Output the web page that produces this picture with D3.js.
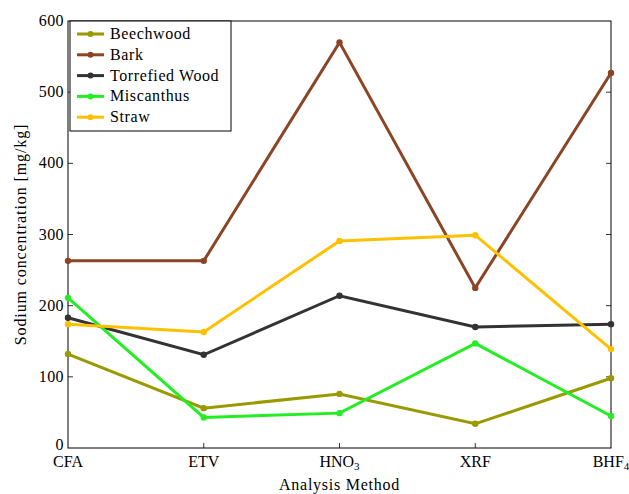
<!DOCTYPE html>
<html>
<head>
<meta charset="utf-8">
<script src="https://cdn.jsdelivr.net/npm/d3@7"></script>
<style>
  body { margin: 0; background: #fff; }
  text { font-family: "Liberation Serif", "DejaVu Serif", serif; fill: #000; }
</style>
</head>
<body>
<svg id="chart"></svg>
<script>
// categories on the x axis
const methods = ['CFA', 'ETV', 'HNO3', 'XRF', 'BHF4'];

// sodium concentration per fuel, mg/kg
const beechwood = [132, 56, 76, 34, 98];
const bark = [263, 263, 570, 225, 527];
const torrefied = [183, 131, 214, 170, 174];
const miscanthus = [211, 43, 49, 147, 45];
const straw = [174, 163, 291, 299, 139];

const seriesNames = ['Beechwood', 'Bark', 'Torrefied Wood', 'Miscanthus', 'Straw'];
const seriesColors = ['#999900', '#8b4424', '#333333', '#22ee22', '#ffc000'];
const yTicks = [0, 100, 200, 300, 400, 500, 600];

function buildChart() {
    const width = 629;
    const height = 494;
    const margin = {top: 21, right: 18, bottom: 46, left: 68};
    const svg = d3.select('#chart').attr('width', width).attr('height', height);

    const x = d3.scalePoint().domain(methods).range([margin.left, width - margin.right]);
    const y = d3.scaleLinear().domain([0, 600]).range([height - margin.bottom, margin.top]);

    const allSeries = [beechwood, bark, torrefied, miscanthus, straw];
    const fs = 16;

    //frame
    svg.append('rect')
        .attr('x', margin.left).attr('y', margin.top)
        .attr('width', width - margin.right - margin.left)
        .attr('height', height - margin.bottom - margin.top)
        .attr('fill', 'none').attr('stroke', '#000').attr('stroke-width', 1);

    //inward ticks
    const tickLen = 5;
    const ticks = svg.append('g').attr('stroke', '#000').attr('stroke-width', 0.8);
    methods.slice(1, -1).forEach(m => {
        ticks.append('line').attr('x1', x(m)).attr('x2', x(m))
            .attr('y1', y(0)).attr('y2', y(0) - tickLen);
    });
    yTicks.slice(1, -1).forEach(t => {
        ticks.append('line').attr('x1', margin.left).attr('x2', margin.left + tickLen)
            .attr('y1', y(t)).attr('y2', y(t));
        ticks.append('line').attr('x1', width - margin.right).attr('x2', width - margin.right - tickLen)
            .attr('y1', y(t)).attr('y2', y(t));
    });

    //y tick labels
    svg.append('g').selectAll('text').data(yTicks).enter().append('text')
        .attr('x', margin.left - 4).attr('y', d => y(d) + (d === 0 ? 2 : 5))
        .attr('text-anchor', 'end').attr('font-size', fs).attr('letter-spacing', 0.4).text(d => d);

    //x tick labels, with subscripts
    const xl = svg.append('g').selectAll('text').data(methods).enter().append('text')
        .attr('x', d => x(d)).attr('y', y(0) + 19)
        .attr('text-anchor', 'middle').attr('font-size', fs);
    xl.each(function (d) {
        const t = d3.select(this);
        const m = d.match(/^([A-Z]+)(\d)$/);
        if (m) {
            t.append('tspan').text(m[1]);
            t.append('tspan').attr('font-size', 11).attr('dy', 3).text(m[2]);
        } else {
            t.text(d);
        }
    });

    //axis titles
    svg.append('text').attr('x', (margin.left + width - margin.right) / 2).attr('y', 490)
        .attr('text-anchor', 'middle').attr('font-size', fs).attr('letter-spacing', 0.75)
        .text('Analysis Method');
    svg.append('text')
        .attr('transform', `translate(26, ${(margin.top + height - margin.bottom) / 2}) rotate(-90)`)
        .attr('text-anchor', 'middle').attr('font-size', fs).attr('letter-spacing', 0.9)
        .text('Sodium concentration [mg/kg]');

    //lines
    const line = d3.line().x((d, i) => x(methods[i])).y(d => y(d));
    allSeries.forEach((vals, s) => {
        const g = svg.append('g');
        g.append('path').attr('d', line(vals))
            .attr('fill', 'none').attr('stroke', seriesColors[s]).attr('stroke-width', 3);
        g.selectAll('circle').data(vals).enter().append('circle')
            .attr('cx', (d, i) => x(methods[i])).attr('cy', d => y(d))
            .attr('r', 3.2).attr('fill', seriesColors[s]);
    });

    //legend
    const legend = svg.append('g').attr('transform', `translate(${margin.left + 2}, ${margin.top})`);
    legend.append('rect').attr('width', 161).attr('height', 110)
        .attr('fill', '#fff').attr('stroke', '#000').attr('stroke-width', 1);
    seriesNames.forEach((name, i) => {
        const cy = 13 + i * 20.8;
        legend.append('line').attr('x1', 7).attr('x2', 34).attr('y1', cy).attr('y2', cy)
            .attr('stroke', seriesColors[i]).attr('stroke-width', 3);
        legend.append('circle').attr('cx', 20.5).attr('cy', cy).attr('r', 3).attr('fill', seriesColors[i]);
        legend.append('text').attr('x', 40).attr('y', cy + 5).attr('font-size', fs)
            .attr('letter-spacing', 0.6).text(name);
    });
}

buildChart();
</script>
</body>
</html>
